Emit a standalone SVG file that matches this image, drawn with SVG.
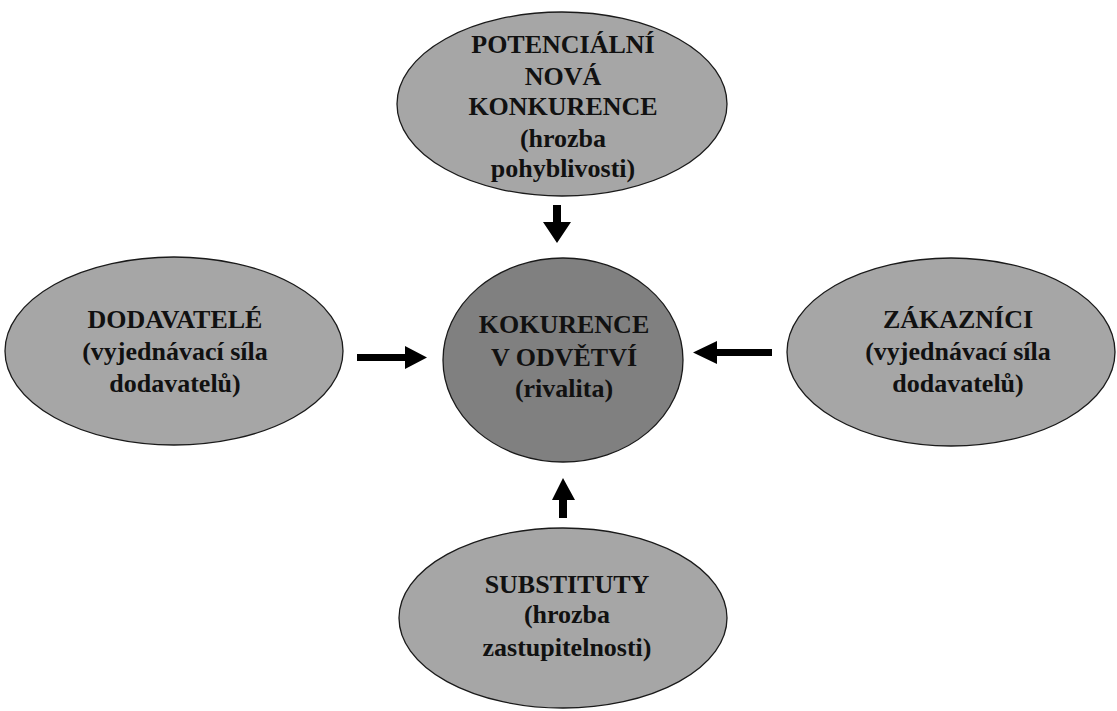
<svg xmlns="http://www.w3.org/2000/svg" width="1117" height="711" viewBox="0 0 1117 711">
<style>
.n{fill:#a6a6a6;stroke:#1a1a1a;stroke-width:1.3}
.c{fill:#808080;stroke:#1a1a1a;stroke-width:1.3}
text{font-family:'Liberation Serif','Times New Roman','DejaVu Serif',serif;font-weight:700;font-size:26px;fill:#111;text-anchor:middle}
.a{fill:#000}
</style>
<rect width="1117" height="711" fill="#fff"/>
<g id="top">
<ellipse class="n" cx="562" cy="104" rx="165" ry="92"/>
<text x="563" y="53">POTENCIÁLNÍ</text>
<text x="563" y="85">NOVÁ</text>
<text x="563" y="115">KONKURENCE</text>
<text x="563" y="147">(hrozba</text>
<text x="563" y="177">pohyblivosti)</text>
</g>
<g id="center">
<ellipse class="c" cx="563" cy="360" rx="120" ry="102"/>
<text x="564" y="333">KOKURENCE</text>
<text x="564" y="366">V ODVĚTVÍ</text>
<text x="564" y="397">(rivalita)</text>
</g>
<g id="left">
<ellipse class="n" cx="174" cy="351" rx="169" ry="94"/>
<text x="175" y="328">DODAVATELÉ</text>
<text x="175" y="360">(vyjednávací síla</text>
<text x="175" y="392">dodavatelů)</text>
</g>
<g id="right">
<ellipse class="n" cx="951" cy="352" rx="164" ry="94"/>
<text x="958" y="328">ZÁKAZNÍCI</text>
<text x="958" y="360">(vyjednávací síla</text>
<text x="958" y="392">dodavatelů)</text>
</g>
<g id="bottom">
<ellipse class="n" cx="563" cy="618" rx="164" ry="90"/>
<text x="567" y="593">SUBSTITUTY</text>
<text x="567" y="623">(hrozba</text>
<text x="567" y="656">zastupitelnosti)</text>
</g>
<g id="connectors">
<polygon class="a" points="553,205 561,205 561,222 571,222 557,243 543,222 553,222"/>
<polygon class="a" points="357,354 405,354 405,346 427,357.5 405,369 405,361 357,361"/>
<polygon class="a" points="772,349 717,349 717,341 693,352.5 717,364 717,356 772,356"/>
<polygon class="a" points="559,518 559,500 552,500 563,478 575,500 567,500 567,518"/>
</g>
</svg>
